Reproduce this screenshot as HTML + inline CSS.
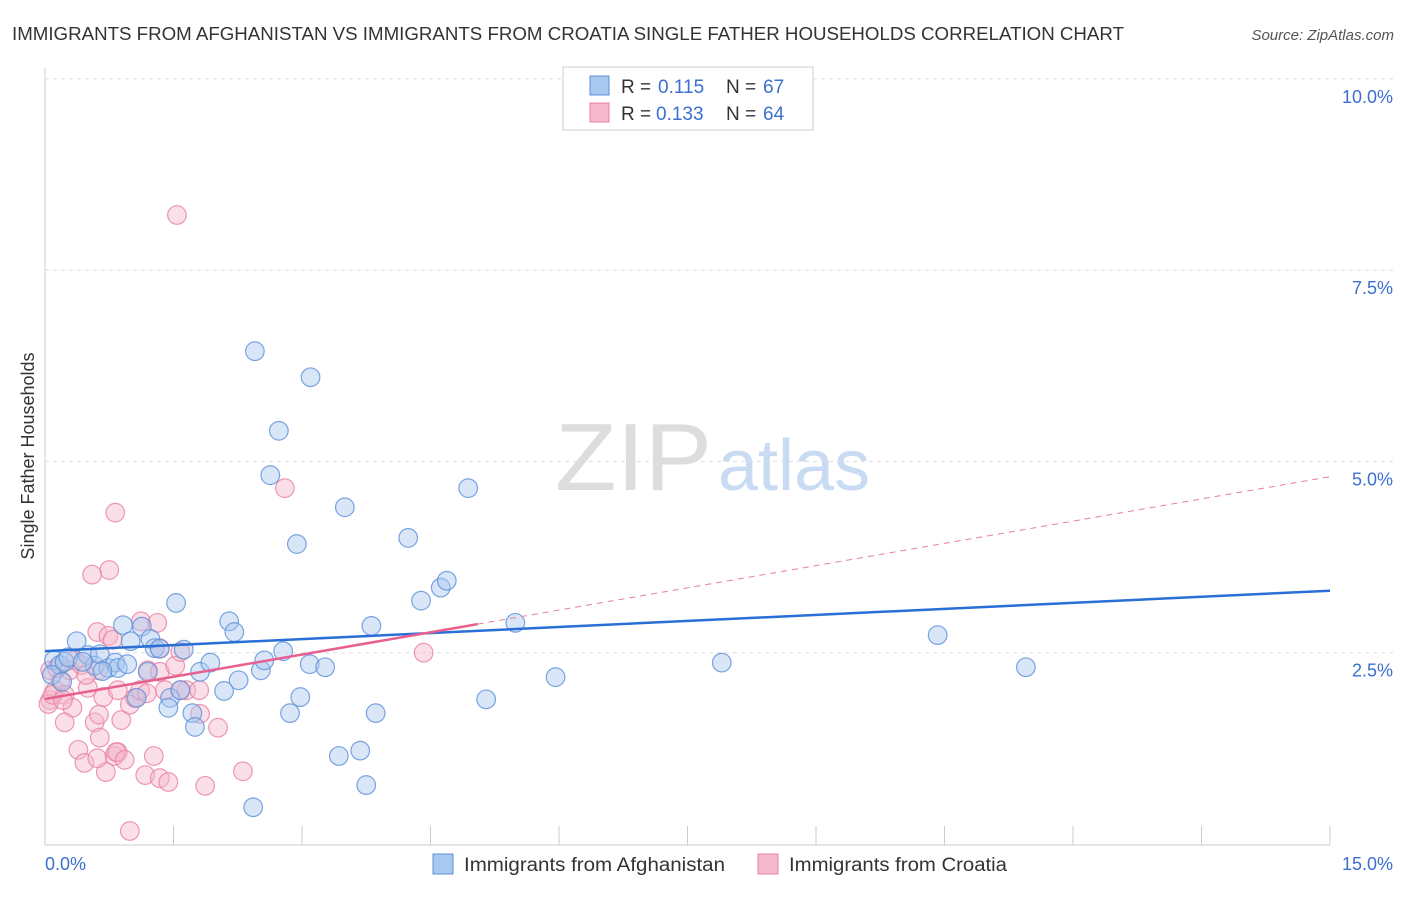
<!DOCTYPE html>
<html><head><meta charset="utf-8"><style>
body{margin:0;background:#fff;font-family:"Liberation Sans",sans-serif;}
svg text{font-family:"Liberation Sans",sans-serif;}
</style></head><body>
<svg id="c" width="1406" height="892" xmlns="http://www.w3.org/2000/svg">
<text x="12" y="40" font-size="18" fill="#333" textLength="1112" lengthAdjust="spacingAndGlyphs">IMMIGRANTS FROM AFGHANISTAN VS IMMIGRANTS FROM CROATIA SINGLE FATHER HOUSEHOLDS CORRELATION CHART</text>
<text x="1394" y="40" font-size="15" fill="#555" font-style="italic" text-anchor="end">Source: ZipAtlas.com</text>
<text x="555" y="490" font-size="96" fill="#ddd" font-family="Liberation Serif" textLength="157" lengthAdjust="spacingAndGlyphs">ZIP</text>
<text x="718" y="490" font-size="72" fill="#c9dbf3">atlas</text>
<text transform="translate(34,456) rotate(-90)" font-size="18" fill="#333" text-anchor="middle">Single Father Households</text>
<g id="grid"></g><g id="pts"></g><g id="lines"></g>
<g>
<rect x="563" y="67" width="250" height="63" fill="#fff" stroke="#ccc"/>
<rect x="590" y="76" width="19" height="19" fill="#a8c8f0" stroke="#5b8fd8"/>
<text x="621" y="93" font-size="19" fill="#333">R = </text><text x="658" y="93" font-size="19" fill="#3b6fd0">0.115</text>
<text x="726" y="93" font-size="19" fill="#333">N = </text><text x="763" y="93" font-size="19" fill="#3b6fd0">67</text>
<rect x="590" y="103" width="19" height="19" fill="#f5b8cc" stroke="#e87fa0"/>
<text x="621" y="120" font-size="19" fill="#333">R = </text><text x="656" y="120" font-size="19" fill="#3b6fd0">0.133</text>
<text x="726" y="120" font-size="19" fill="#333">N = </text><text x="763" y="120" font-size="19" fill="#3b6fd0">64</text>
</g>
<g>
<rect x="433" y="854" width="20" height="20" fill="#a8c8f0" stroke="#5b8fd8"/>
<text x="464" y="871" font-size="19" fill="#333" textLength="261" lengthAdjust="spacingAndGlyphs">Immigrants from Afghanistan</text>
<rect x="758" y="854" width="20" height="20" fill="#f5b8cc" stroke="#e87fa0"/>
<text x="789" y="871" font-size="19" fill="#333" textLength="218" lengthAdjust="spacingAndGlyphs">Immigrants from Croatia</text>
</g>
<text x="45" y="870" font-size="18" fill="#3b6fd0">0.0%</text>
<text x="1393" y="870" font-size="18" fill="#3b6fd0" text-anchor="end">15.0%</text>
</svg>
<script>
const blueX=[0.105,0.175,0.08,0.23,0.37,0.27,0.50,0.58,0.64,0.74,0.82,0.91,0.85,0.96,1.00,1.13,1.07,1.23,1.28,1.34,1.20,1.53,1.62,1.46,1.44,1.58,1.72,1.75,1.81,1.93,2.09,2.15,2.21,2.26,2.45,2.52,2.56,2.63,2.73,2.78,2.86,2.94,2.98,3.10,3.09,3.27,3.43,3.50,3.68,3.75,3.81,3.86,4.24,4.39,4.62,4.69,4.94,5.15,5.49,5.96,7.90,10.42,11.45,2.43,0.44,0.20,0.67];
const blueY=[2.40,2.34,2.21,2.38,2.65,2.44,2.47,2.33,2.48,2.30,2.37,2.86,2.30,2.35,2.65,2.84,1.91,2.68,2.56,2.55,2.25,3.15,2.54,1.91,1.78,2.01,1.71,1.53,2.25,2.37,2.00,2.91,2.77,2.14,6.44,2.27,2.40,4.82,5.40,2.52,1.71,3.92,1.92,6.10,2.35,2.31,1.15,4.40,1.22,0.77,2.85,1.71,4.00,3.18,3.35,3.44,4.65,1.89,2.89,2.18,2.37,2.73,2.31,0.48,2.38,2.12,2.26];
const pinkX=[1.54,2.80,0.82,0.75,0.55,0.06,0.12,0.18,0.06,0.23,0.29,0.35,0.43,0.50,0.61,0.62,0.68,0.74,0.85,0.89,0.99,1.05,1.12,1.20,1.31,1.34,1.34,1.40,1.52,1.58,1.65,1.80,1.81,2.02,0.48,0.32,0.39,0.23,0.58,0.63,0.64,0.71,0.81,0.85,0.46,0.61,1.17,1.27,1.34,1.44,1.87,2.31,0.99,4.42,0.04,0.09,0.14,0.21,0.79,1.11,1.19,0.83,0.93,1.58];
const pinkY=[8.22,4.65,4.33,3.58,3.52,1.88,2.01,2.14,2.27,1.95,2.27,2.40,2.34,2.04,2.77,2.27,1.92,2.72,2.01,1.62,1.82,1.91,2.91,2.27,2.89,2.56,2.25,2.01,2.33,2.51,2.01,2.01,1.70,1.52,2.21,1.78,1.23,1.59,1.59,1.69,1.39,0.94,1.15,1.20,1.06,1.12,0.90,1.15,0.86,0.81,0.76,0.95,0.17,2.50,1.83,1.95,2.30,1.88,2.67,2.01,1.97,1.20,1.10,2.01];
const yTicks=[2.5,5.0,7.5,10.0];
const xTicks=[0,1.5,3,4.5,6,7.5,9,10.5,12,13.5,15];
const blueTrend=[2.52,3.31];
const pinkTrend=[1.895,4.80];
const pinkSolidEnd=5.05;
const NS="http://www.w3.org/2000/svg";
const sx=v=>45+v*(1285/15), sy=v=>844-v*76.52;
function mk(tag,attrs,parent){const e=document.createElementNS(NS,tag);for(const k in attrs)e.setAttribute(k,attrs[k]);parent.appendChild(e);return e;}
const grid=document.getElementById('grid'),pts=document.getElementById('pts'),lines=document.getElementById('lines');
mk('line',{x1:45,y1:68,x2:45,y2:845,stroke:'#ccc'},grid);
mk('line',{x1:45,y1:845,x2:1330,y2:845,stroke:'#ccc'},grid);
yTicks.forEach(t=>{const l=mk('line',{x1:45,y1:sy(t),x2:1395,y2:sy(t),stroke:'#ddd','stroke-dasharray':'4,4'},grid);


const tx=mk('text',{x:1393,y:sy(t)+24,'font-size':18,fill:'#3b6fd0','text-anchor':'end'},grid);tx.textContent=t.toFixed(1)+'%';

});
xTicks.forEach(t=>{const l=mk('line',{x1:sx(t),y1:826,x2:sx(t),y2:845,stroke:'#ccc'},grid);

});
function dots(X,Y,fill,stroke,name){X.forEach((x,i)=>{const c=mk('circle',{cx:sx(x),cy:sy(Y[i]),r:9.3,fill:fill,'fill-opacity':0.45,stroke:stroke,'stroke-width':1.2,'stroke-opacity':0.8},pts);

});}
dots(pinkX,pinkY,'#f5b8cc','#e87fa0','point-croatia');
dots(blueX,blueY,'#a8c8f0','#5b8fd8','point-afghanistan');
const bl=mk('line',{x1:sx(0),y1:sy(blueTrend[0]),x2:sx(15),y2:sy(blueTrend[1]),stroke:'#2a6fd6','stroke-width':2.5},lines);


const py=x=>pinkTrend[0]+(pinkTrend[1]-pinkTrend[0])*x/15;
const pd=mk('line',{x1:sx(pinkSolidEnd),y1:sy(py(pinkSolidEnd)),x2:sx(15),y2:sy(pinkTrend[1]),stroke:'#e87fa0','stroke-width':1,'stroke-dasharray':'6,5'},lines);


const ps=mk('line',{x1:sx(0),y1:sy(pinkTrend[0]),x2:sx(pinkSolidEnd),y2:sy(py(pinkSolidEnd)),stroke:'#e8608e','stroke-width':2.5},lines);


</script>
</body></html>
